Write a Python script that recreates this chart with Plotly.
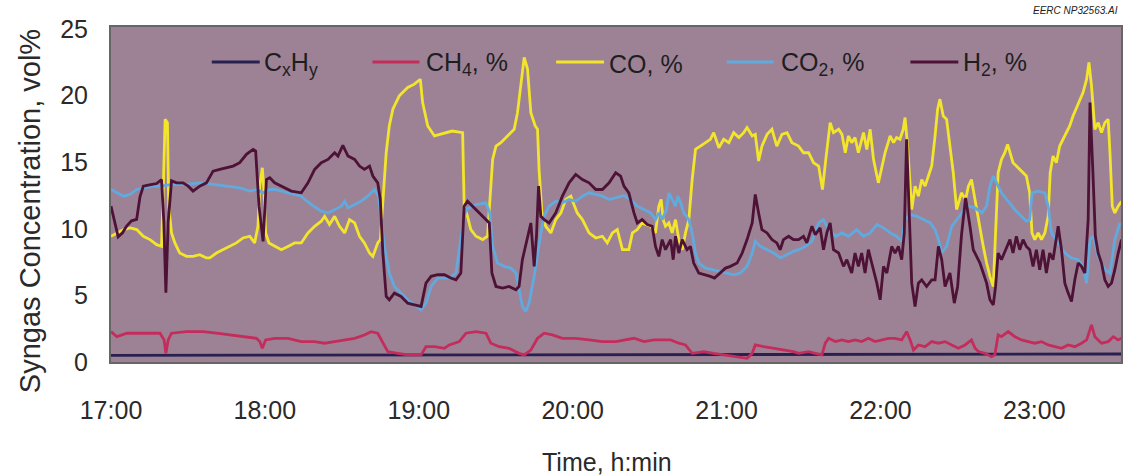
import pandas as pd
import plotly.graph_objects as go

# ---------------- data (minutes after 17:00, vol%) ----------------
cxhy_t = [0, 130, 265, 394]
cxhy_v = [0.5, 0.55, 0.55, 0.6]

ch4_t = [0, 2.3, 6.2, 10, 19.1, 20.7, 21.4, 22.3, 23.6, 29.4, 35.9, 41.1, 46.3, 51.5, 56.7, 58, 59, 60.3,
         63.8, 69, 74.2, 79.4, 83.3, 87.2, 91.1, 95, 98.8, 101.4, 104, 106, 107.9, 111.8, 115.7, 120.9, 122.8, 126.1, 130,
         131.9, 135.8, 138.4, 142.3, 146.2, 148.1, 151.4, 155.2, 159.1, 161.1, 163.7, 166.3, 168.9, 172.1, 176, 181.2,
         186.4, 191.6, 196.8,
         200, 203.9, 207.8, 211.7, 215.6, 218.2, 221.4, 224, 226.6, 231.1, 235, 238.9, 244.1, 248, 250, 251.2, 254.5,
         258.4, 262.2, 266.1,
         268.1, 272, 274.6, 277.2, 278.5, 279.8, 282.4, 285, 287.5, 290.1, 292.7, 295.3, 297.9, 300.5, 303.1, 305.7,
         308.3, 310.2, 311.6, 312.9, 314.8, 317.4, 320, 322.6, 325.2, 327.8, 330.4,
         333, 335.5, 336.9, 338.2, 340.8, 343.3, 344.6, 345.9, 347.2, 349.8, 352.4, 355, 357.6, 360.2, 362.8, 365.4,
         368, 370.6, 373.2, 375.8, 378.4, 380.4, 382.3, 383.6, 386.2, 388.8, 390.8, 392.7, 394]
ch4_v = [2.28, 1.9, 2.16, 2.16, 2.16, 1.66, 0.65, 1.66, 2.16, 2.28, 2.28, 2.16, 2.03, 1.9, 1.78, 1.53, 1.03, 1.66,
         1.78, 1.78, 1.53, 1.53, 1.41, 1.53, 1.66, 1.78, 2.03, 2.28, 2.16, 1.41, 0.78, 0.65, 0.53, 0.53, 1.15, 1.15, 1.03,
         1.28, 1.53, 2.16, 2.28, 2.16, 1.41, 1.15, 1.03, 0.65, 0.53, 0.9, 1.78, 2.16, 2.03, 1.78, 1.78,
         1.66, 1.53, 1.53,
         1.66, 1.78, 1.53, 1.66, 1.66, 1.66, 1.41, 1.28, 0.65, 0.78, 0.65, 0.53, 0.4, 0.28, 0.65, 1.28, 1.15,
         1.03, 0.9, 0.78,
         0.65, 0.78, 0.65, 0.53, 1.41, 1.78, 1.53, 1.66, 1.53, 1.66, 1.53, 1.78, 1.53, 1.66, 1.78, 1.78,
         1.66, 2.28, 1.66, 0.9, 1.28, 1.15, 1.53, 1.41, 1.53, 1.28, 1.03,
         1.28, 1.66, 1.03, 0.78, 0.65, 0.4, 0.53, 2.03, 1.9, 2.28, 1.9, 1.66, 1.53, 1.41, 1.53, 1.28,
         1.15, 1.03, 1.28, 1.15, 1.41, 1.66, 2.79, 1.9, 1.41, 1.53, 1.9, 1.66, 1.78]

co_t = [0, 2.3, 4.9, 7.5, 10, 12.6, 15.2, 17.8, 19.7, 20.4, 21.1, 22, 22.5, 23.6, 24.9, 26.8, 29.4, 32, 34.6, 37.2,
        38.5, 41.1, 43.7, 46.3, 48.9, 51.5, 54.1, 56, 57.3, 58, 59, 59.7, 60.3, 61.6,
        63.8, 66.4, 69, 71.6, 74.2, 76.8, 79.4, 82, 83.3, 85.2, 87.2, 89.1, 91.1, 93, 95, 96.9, 98.8, 100.8, 102.1,
        104, 105, 106, 107.3, 108.5, 109.9, 112.4, 115.7, 118.3, 120.6, 121.5, 123.5, 126.1, 128.7, 131.3,
        133, 137.1, 137.7, 139, 140.3, 142.3, 144.9, 146.8, 147.7, 148.8, 150.1, 152, 154.6, 157.2, 158.5, 159.8,
        161.1, 162.4, 163.7, 165.4, 166.3, 166.9, 168, 169.5, 171.5, 173.4, 175.4, 177.3, 179.3, 180.5, 181.8,
        183.8, 186.4, 189, 191.6, 193.5, 195.5, 197.4, 199.4,
        201.9, 203.3, 205.2, 207.1, 208.4, 210.4, 212.3, 213.6, 214.5, 215.3, 216.2, 217.5, 218.8, 220.1, 221.4,
        222.7, 224, 225.3, 226.6, 227.9, 229.8, 231.8, 233.7, 235, 237, 238.9, 240.9, 242.8, 244.8, 246.7, 248,
        250, 251.2, 252.5, 253.8, 255.8, 257.7, 259.6, 261.6, 263.6, 265.5,
        268.1, 270, 272, 273.9, 275.9, 277.4, 278.7, 280.4, 281.7, 283.7, 285, 286.3, 287.5, 288.8, 290.1, 291.4,
        293.4, 294.7, 296, 297.3, 299.2, 300.5, 301.8, 303.8, 305.1, 306.3, 307.6, 308.9, 309.6, 310.6, 312.2,
        313.5, 314.8, 316.1, 317.4, 318.7, 320, 321.3, 322.3, 323.2, 324.5, 325.8, 327.1, 328.4, 329.7,
        331.6, 333.2, 334.3, 335.5, 336.6, 337.5, 338.8, 340.1, 341.4, 342.7, 344, 344.9, 345.9, 347.2, 348.5,
        349.6, 350.5, 351.7, 353, 354.3, 355.6, 356.9, 358.2, 359.1, 360.2, 361.5, 362.8, 364.1, 365.4, 366.2,
        367.3, 368.6, 369.9, 371.9, 373.8, 375.1, 376.4, 377.7, 379, 380.4, 381.3, 382.3, 383.6, 384.9, 386.2,
        387.5, 388.8, 389.5, 390.4, 391.4, 392.7, 394]
co_v = [9.44, 9.69, 9.94, 10.07, 9.94, 9.44, 9.19, 8.81, 8.68, 13.2, 18.22, 17.97, 11.7, 9.69, 8.94, 8.18, 7.93, 7.93,
        8.06, 7.81, 7.81, 8.18, 8.43, 8.68, 8.94, 9.31, 9.44, 8.94, 10.19, 13.2, 14.58, 12.7, 9.69, 8.94,
        8.68, 8.43, 8.68, 8.94, 8.94, 9.69, 10.19, 10.57, 10.94, 10.32, 10.94, 10.19, 9.69, 10.69, 10.44, 9.44, 8.94,
        8.18, 7.93, 8.94, 9.19, 11.7, 15.71, 17.72, 18.98, 19.98, 20.61, 20.86, 21.23, 19.48, 17.72, 16.97, 17.09,
        17.22,
        17.34, 17.22, 11.7, 10.94, 9.94, 9.44, 9.19, 9.44, 11.7, 15.21, 16.21, 16.47, 16.97, 17.47, 18.72, 20.73,
        22.87, 21.99, 18.72, 17.72, 17.47, 14.46, 11.19, 10.19, 9.69, 10.69, 11.19, 12.2, 12.45, 11.82, 11.19,
        10.69, 9.69, 9.31, 9.44, 8.94, 9.69, 9.94, 8.43,
        8.43, 9.69, 9.94, 10.44, 10.32, 10.19, 9.69, 11.7, 12.2, 10.69, 10.19, 10.44, 9.69, 10.69, 9.19,
        8.43, 9.69, 10.69, 13.7, 15.96, 16.21, 16.47, 16.72, 17.22, 16.09, 16.72, 16.47, 17.22, 16.85, 17.22, 17.6,
        16.97, 17.09, 15.09, 16.21, 17.09, 17.47, 16.21, 17.09, 17.22, 16.47,
        16.21, 15.71, 15.71, 14.96, 14.71, 12.95, 15.21, 17.97, 17.22, 17.47, 17.09, 15.71, 16.97, 16.47, 16.85,
        15.71, 17.22, 15.96, 17.47, 15.21, 13.45, 14.71, 15.71, 16.97, 16.47, 16.85, 16.72, 17.47, 18.35, 16.21,
        11.45, 13.2, 12.45, 13.7, 13.2, 13.96, 14.71, 16.97, 18.98, 19.73, 18.47, 18.22, 16.21, 14.21, 11.45,
        12.7, 12.2, 13.2, 13.7, 12.45, 11.7, 10.19, 8.68, 7.43, 6.43, 5.67, 9.44, 14.21, 15.21, 15.71,
        16.34, 15.71, 14.96, 14.71, 14.46, 14.21, 13.96, 12.7, 9.69, 9.19, 9.69, 9.19, 9.69, 10.94, 14.21,
        15.46, 14.96, 16.21, 16.97, 17.72, 18.47, 19.1, 19.73, 20.23, 21.23, 22.49, 20.73, 17.47, 17.97, 17.22,
        17.97, 18.22, 15.71, 11.7, 11.19, 11.7, 12.07]

co2_t = [0, 2.3, 4.9, 7.5, 10, 12.6, 16.5, 19.1, 24.3, 29.4, 34.6, 39.8, 45, 50.2, 54.1, 56.7, 59.3, 61.9,
         63.8, 69, 74.2, 78.1, 82, 84.6, 87.2, 89.8, 91.1, 92.4, 95, 97.5, 100.1, 102.7, 104.3, 105.3, 106.6, 108.5,
         110.5, 113.1, 115.7, 118.3, 120.9, 122.8, 124.8, 127.4, 130,
         131.9, 134.5, 137.1, 138.4, 142.3, 146.2, 147.7, 148.8, 150.7, 153.3, 155.9, 157.9, 159.1, 160.4, 161.7,
         163, 165, 166.3, 167.6, 168.9, 170.8, 173.4, 176, 178.6, 181.2, 183.8, 186.4, 189, 191.6, 194.2, 196.8,
         200, 202.6, 205.2, 207.8, 210.4, 212.3, 213.6, 214.9, 216.6, 217.5, 218.8, 220.1, 221, 222.1, 223.3,
         225.3, 226.6, 227.9, 229.2, 231.8, 234.4, 237.6, 240.2, 242.8, 245.4, 248, 250, 251.2, 253.2, 255.8,
         258.4, 261, 263.6, 266.1,
         268.1, 270.7, 273.3, 275.9, 277.8, 279.8, 282.4, 285, 287.5, 290.8, 293.4, 296, 298.6, 301.2, 303.8,
         306.3, 308.3, 309.6, 311.6, 314.2, 316.8, 319.4, 321.3, 322.6, 323.9, 325.8, 327.8, 329.7,
         332.3, 334.3, 336.9, 339.5, 341.4, 342.7, 344, 345.3, 347.2, 349.8, 352.4, 355, 356.9, 358.2, 359.1,
         361.5, 364.1, 365.4, 366.7, 369.3, 371.9, 374.5, 377.1, 379, 380.4, 381.7, 383, 384.9, 387.5, 389.5,
         391.4, 393.4]
co2_v = [12.95, 12.7, 12.45, 12.58, 12.95, 13.08, 13.2, 13.2, 13.33, 13.33, 13.45, 13.33, 13.2, 13.08, 12.83, 12.95,
         12.7, 12.95,
         12.95, 12.7, 12.45, 11.82, 11.32, 11.19, 11.45, 11.7, 12.07, 11.57, 11.82, 12.07, 12.45, 12.95, 12.45, 10.69,
         8.68, 6.68, 5.67, 5.17, 4.67, 4.29, 3.92, 4.42, 5.67, 6.3, 6.3,
         6.3, 6.68, 10.2, 11.45, 11.82, 11.95, 11.19, 8.68, 7.43, 7.18, 7.05, 6.68, 5.42, 4.17, 3.79,
         4.42, 6.43, 8.18, 9.69, 10.94, 11.7, 12.07, 11.95, 12.2, 12.07, 12.45, 12.7, 12.58, 12.45, 12.2, 12.32,
         12.5, 12.2, 11.7, 11.45, 11.19, 10.69, 11.19, 10.69, 11.45, 12.7, 12.2, 11.7, 12.45, 11.95, 11.19,
         10.69, 9.69, 8.18, 7.43, 7.05, 6.93, 6.8, 6.68, 6.55, 6.68, 7.18, 8.18, 9.06, 8.68, 8.43,
         8.18, 7.81, 8.06, 8.31,
         8.43, 8.68, 9.06, 10.44, 10.69, 9.94, 9.44, 9.69, 9.44, 9.94, 9.44, 9.69, 10.32, 10.07, 9.69,
         9.44, 9.06, 10.69, 11.07, 10.94, 10.69, 10.44, 9.94, 9.19, 8.18, 8.68, 10.19, 10.69,
         11.32, 11.7, 11.57, 11.19, 11.7, 13.2, 13.96, 13.45, 12.7, 12.07, 11.45, 10.94, 10.57, 10.69, 12.7,
         12.83, 12.7, 11.7, 9.69, 8.94, 8.18, 7.81, 7.68, 7.18, 5.92, 9.19, 9.44, 7.93, 6.93, 6.68,
         9.19, 10.44]

h2_t = [0, 2.8, 4.5, 6.1, 8, 10, 11.3, 12.6, 15, 17.8, 19.7, 20.6, 21.4, 22.3, 23.6, 25.6, 28.1, 30.1, 32, 34.6,
        37.2, 39.8, 42.4, 45, 47.6, 50.2, 52.8, 55.4, 56.4, 57.7, 59.3, 60.6, 61.9,
        63.8, 67.7, 70.3, 74.2, 76.8, 79.4, 82, 84.6, 87.2, 88.5, 90.4, 92.4, 95, 96.9, 98.8, 100.8, 102.1, 104, 105,
        106, 107.3, 108.5, 110.5, 113.1, 115.7, 118.3, 120.9, 122.8, 124.8, 127.4, 130, 132.5,
        134.5, 136.4, 137.7, 139, 141, 143.6, 146.2, 147.5, 148.5, 150.1, 152.7, 155.2, 157.9, 159.1, 160.4, 162.4,
        163.7, 165, 165.9, 166.7, 167.6, 168.9, 170.8, 173.4, 176, 178.6, 181.2, 183.8, 186.4, 189, 191.6, 194.2,
        196.8, 198.7,
        200, 201.9, 203.9, 205.2, 207.1, 209.1, 211, 212.3, 213.6, 214.9, 216.2, 218.2, 219.2, 220.1, 221.4, 222.7,
        224.6, 225.9, 227.2, 229.2, 231.8, 233.7, 235.3, 237.6, 239.6, 241.5, 244.1, 246.1, 248, 250, 251.2, 252.5,
        253.8, 255.8, 257.7, 259.6, 260.9, 262.2, 264.2, 266.1,
        268.1, 270, 271.3, 273.3, 274.6, 276.5, 277.8, 279.1, 280.4, 281.7, 283.7, 285.6, 286.9, 288.8, 290.1,
        291.4, 292.7, 294, 295.3, 296.6, 298.6, 299.9, 301.2, 302.5, 304.4, 305.7, 307, 308.3, 309.3, 310.2, 311.2,
        312.2, 313.5, 314.8, 316.1, 318, 320, 321.3, 322.6, 323.9, 325.2, 327.1, 328.8, 330.1, 331.6, 333.2,
        334.9, 336.2, 337.5, 338.8, 340.1, 341.4, 342.7, 344, 344.9, 345.9, 347.2, 349.2, 350.5, 351.7, 353,
        354.3, 355.6, 356.9, 358.2, 359.5, 360.8, 362.1, 363.4, 364.7, 366, 367.3, 368.6, 369.3, 370.6, 371.9,
        373.2, 374.5, 375.8, 377.1, 378.4, 379.7, 381, 381.7, 382.8, 383.8, 384.9, 386.2, 387.5, 388.8, 390.1,
        391.4, 392.7, 394]
h2_v = [11.7, 9.4, 9.7, 10.2, 10.6, 10.7, 12.4, 13.2, 13.3, 13.4, 13.7, 10.5, 5.2, 10.5, 13.6, 13.45, 13.45, 13.2,
        12.83, 13.2, 13.45, 14.33, 14.46, 14.58, 14.71, 14.96, 15.59, 15.96, 15.84, 11.7, 9.06, 13.7, 13.83,
        13.45, 13.08, 12.83, 12.7, 13.45, 14.46, 14.96, 15.21, 15.71, 15.46, 16.26, 15.46, 15.21, 14.71, 14.46, 14.71,
        13.96, 13.45, 12.2, 8.18, 4.92, 4.67, 5.17, 4.92, 4.42, 4.29, 4.17, 5.92, 6.43, 6.55, 6.55, 6.3,
        6.17, 6.68, 11.7, 12.07, 11.7, 11.19, 10.69, 10.44, 6.68, 5.67, 5.55, 5.67, 5.42, 5.67, 7.68, 9.44,
        10.44, 7.18, 9.44, 13.2, 10.94, 10.69, 10.44, 11.19, 12.45, 13.45, 14.08, 13.7, 13.45, 12.95, 12.95, 13.45,
        14.21, 13.96,
        13.2, 12.7, 11.19, 10.44, 10.69, 10.32, 10.19, 8.68, 7.93, 9.19, 8.43, 9.19, 7.68, 9.44, 8.18, 9.19,
        8.43, 8.68, 7.43, 6.68, 6.55, 6.43, 6.3, 6.68, 7.05, 7.18, 7.43, 8.18, 9.19, 10.44, 12.58, 11.19,
        9.94, 9.69, 9.19, 8.94, 8.43, 9.19, 9.44, 9.19,
        9.19, 9.44, 8.94, 10.19, 9.56, 10.07, 8.43, 9.69, 10.44, 8.43, 8.18, 7.18, 7.68, 6.68, 8.18,
        7.18, 8.18, 6.68, 8.43, 7.43, 5.92, 4.67, 7.18, 6.68, 8.68, 8.18, 8.68, 7.68, 9.69, 16.72, 11.7,
        5.92, 4.17, 5.92, 6.17, 5.67, 6.17, 6.17, 8.68, 7.68, 5.67, 6.68, 4.42, 5.67, 9.5, 12.32,
        10.19, 8.43, 7.93, 7.43, 6.68, 5.92, 4.67, 4.29, 5.67, 8.18, 7.68, 8.68, 9.19, 8.18, 9.44,
        8.43, 9.19, 8.68, 8.43, 7.18, 8.43, 6.93, 8.43, 6.68, 8.18, 7.68, 9.44, 10.19, 8.43, 5.92,
        5.17, 4.54, 6.17, 7.43, 7.18, 6.68, 10.69, 19.48, 14.46, 9.44, 8.18, 7.43, 6.17, 5.67, 5.92,
        6.93, 8.18, 9.19]

series_names = ["C<sub>x</sub>H<sub>y</sub>", "CH<sub>4</sub>, %", "CO, %", "CO<sub>2</sub>, %", "H<sub>2</sub>, %"]
series_colors = ["#28214f", "#c42c5c", "#f3e42c", "#62a9dd", "#4d1235"]
x_tick_labels = ["17:00", "18:00", "19:00", "20:00", "21:00", "22:00", "23:00"]
y_ticks = [0, 5, 10, 15, 20, 25]

base = pd.Timestamp("2000-01-01 17:00")


def to_time(mins):
    return [base + pd.Timedelta(minutes=m) for m in mins]


all_t = [cxhy_t, ch4_t, co_t, co2_t, h2_t]
all_v = [cxhy_v, ch4_v, co_v, co2_v, h2_v]

fig = go.Figure()
for name, color, t, v in zip(series_names, series_colors, all_t, all_v):
    fig.add_trace(go.Scatter(x=to_time(t), y=v, mode="lines", name=name,
                             line=dict(color=color, width=2.8), showlegend=False))

# ---------------- layout ----------------
L, R, T, B = 111, 1123, 27, 362
W, H = 1126, 476


def px_x(p):
    return (p - L) / (R - L)


def px_y(p):
    return (B - p) / (B - T)


tick_vals = [pd.Timestamp("2000-01-01 " + s) for s in x_tick_labels]
fig.update_layout(
    width=W, height=H,
    margin=dict(l=L, r=W - R, t=T, b=H - B, pad=0),
    paper_bgcolor="white",
    plot_bgcolor="#9d8296",
    font=dict(family="Liberation Sans, Arial, sans-serif", color="#2a2a2a"),
    xaxis=dict(type="date", range=[base, base + pd.Timedelta(minutes=393.8)],
               tickvals=tick_vals, ticktext=x_tick_labels, showgrid=False, zeroline=False,
               ticks="", ticklabelstandoff=25, tickfont=dict(size=25, color="#2a2a2a"),
               showline=True, linecolor="#666666", linewidth=2, mirror=True),
    yaxis=dict(range=[0, 25.15], tickvals=y_ticks, showgrid=False, zeroline=False,
               ticks="", ticklabelstandoff=16, tickfont=dict(size=25, color="#2a2a2a"),
               showline=True, linecolor="#666666", linewidth=2, mirror=True),
)

# manual legend inside the plot (line samples + labels)
legend_line_px = [(212, 260), (373, 420), (557, 605), (728, 775), (912, 960)]
legend_text_px = [262, 425, 608, 780, 963]
legend_y_px = 62
for name, color, (a, b), tx in zip(series_names, series_colors, legend_line_px, legend_text_px):
    fig.add_shape(type="line", xref="paper", yref="paper", x0=px_x(a), x1=px_x(b),
                  y0=px_y(legend_y_px), y1=px_y(legend_y_px), line=dict(color=color, width=2.8))
    fig.add_annotation(xref="paper", yref="paper", x=px_x(tx), y=px_y(legend_y_px + 2),
                       text=name, showarrow=False, xanchor="left", yanchor="middle",
                       font=dict(size=25, color="#1e1e1e"))

# axis titles
fig.add_annotation(xref="paper", yref="paper", x=px_x(608), y=px_y(462),
                   text="Time, h:min", showarrow=False, xanchor="center", yanchor="middle",
                   font=dict(size=25, color="#2a2a2a"))
fig.add_annotation(xref="paper", yref="paper", x=px_x(30), y=px_y(211),
                   text="Syngas Concentration, vol%", showarrow=False, textangle=-90,
                   xanchor="center", yanchor="middle", font=dict(size=29, color="#2a2a2a"))
fig.add_annotation(xref="paper", yref="paper", x=px_x(1122), y=px_y(11),
                   text="<i>EERC NP32563.AI</i>", showarrow=False, xanchor="right", yanchor="middle",
                   font=dict(size=10, color="#222222"))

fig.write_html("out.html")
